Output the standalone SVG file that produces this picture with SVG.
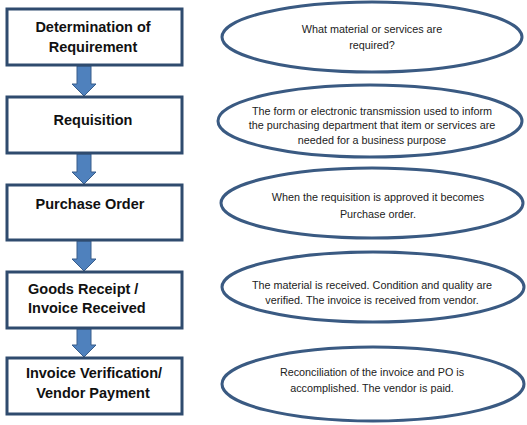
<svg xmlns="http://www.w3.org/2000/svg" width="527" height="425" viewBox="0 0 527 425">
<style>
.box{fill:#fff;stroke:#2f4b6e;stroke-width:3}
.ell{fill:#fff;stroke:#3a5a82;stroke-width:3}
.bt{font-family:"Liberation Sans",Arial,sans-serif;font-weight:bold;font-size:14.5px;fill:#111;text-anchor:middle}
.et{font-family:"Liberation Sans",Arial,sans-serif;font-size:10.8px;fill:#222;text-anchor:middle}
.arr{fill:#4f81bd;stroke:#385d8a;stroke-width:1}
</style>
<rect width="527" height="425" fill="#fff"/>
<g id="connectors">
<path class="arr" d="M77,66 H91 V84 H96 L84,96 L72,84 H77 Z"/>
<path class="arr" d="M77,154 H91 V172 H96 L84,184 L72,172 H77 Z"/>
<path class="arr" d="M77,241 H91 V259 H96 L84,271 L72,259 H77 Z"/>
<path class="arr" d="M77,329 H91 V345 H96 L84,357 L72,345 H77 Z"/>
</g>
<g id="n1"><rect class="box" x="7" y="9" width="175" height="56"/><text class="bt" x="93" y="32">Determination of</text><text class="bt" x="93" y="52">Requirement</text></g>
<g id="n2"><rect class="box" x="7" y="97" width="175" height="56"/><text class="bt" x="93" y="125">Requisition</text></g>
<g id="n3"><rect class="box" x="7" y="185" width="175" height="55"/><text class="bt" x="90" y="209">Purchase Order</text></g>
<g id="n4"><rect class="box" x="7" y="272" width="175" height="56"/><text class="bt" x="28" y="294" style="text-anchor:start">Goods Receipt /</text><text class="bt" x="28" y="313" style="text-anchor:start">Invoice Received</text></g>
<g id="n5"><rect class="box" x="7" y="358" width="175" height="56"/><text class="bt" x="94" y="378">Invoice Verification/</text><text class="bt" x="93" y="398">Vendor Payment</text></g>
<g id="e1"><ellipse class="ell" cx="372" cy="37" rx="150" ry="35"/><text class="et" x="372" y="33">What material or services are</text><text class="et" x="372" y="49">required?</text></g>
<g id="e2"><ellipse class="ell" cx="370" cy="121" rx="152" ry="36"/><text class="et" x="372" y="115">The form or electronic transmission used to inform</text><text class="et" x="372" y="129">the purchasing department that item or services are</text><text class="et" x="372" y="144">needed for a business purpose</text></g>
<g id="e3"><ellipse class="ell" cx="372" cy="203" rx="151" ry="35"/><text class="et" x="378" y="201">When the requisition is approved it becomes</text><text class="et" x="378" y="218">Purchase order.</text></g>
<g id="e4"><ellipse class="ell" cx="373" cy="287" rx="151" ry="35"/><text class="et" x="372" y="289">The material is received. Condition and quality are</text><text class="et" x="372" y="304">verified. The invoice is received from vendor.</text></g>
<g id="e5"><ellipse class="ell" cx="373" cy="384" rx="151" ry="37"/><text class="et" x="372" y="376">Reconciliation of the invoice and PO is</text><text class="et" x="372" y="392">accomplished. The vendor is paid.</text></g>
</svg>
